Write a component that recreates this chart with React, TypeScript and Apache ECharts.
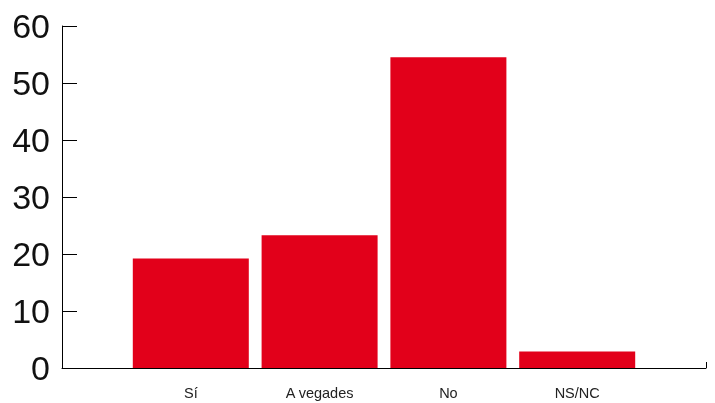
import React, { useEffect, useRef } from "react";
import * as echarts from "echarts";

const categories = ["", "Sí", "A vegades", "No", "NS/NC", ""];
const values: (number | null)[] = [null, 19.2, 23.3, 54.5, 2.9, null];
const yTicks = [0, 10, 20, 30, 40, 50, 60];

export default function App() {
  const ref = useRef<HTMLDivElement>(null);
  useEffect(() => {
    if (!ref.current) return;
    const chart = echarts.init(ref.current, null, { renderer: "svg" });
    chart.setOption({
      animation: false,
      grid: { left: 62, right: 9, top: 26, bottom: 35, containLabel: false },
      xAxis: {
        type: "category",
        data: categories,
        boundaryGap: false,
        axisLine: { show: true, lineStyle: { color: "#000", width: 1 } },
        axisTick: {
          show: true,
          inside: true,
          length: 6,
          interval: (i: number) => i === categories.length - 1,
          lineStyle: { color: "#000" },
        },
        axisLabel: {
          interval: 0,
          margin: 17,
          fontSize: 14.5,
          color: "#222",
          fontFamily: "'Liberation Sans Narrow', 'Liberation Sans', Arial, sans-serif",
        },
        splitLine: { show: false },
      },
      yAxis: {
        type: "value",
        min: yTicks[0],
        max: yTicks[yTicks.length - 1],
        interval: 10,
        axisLine: { show: true, lineStyle: { color: "#000", width: 1 } },
        axisTick: { show: true, inside: true, length: 15, lineStyle: { color: "#000" } },
        axisLabel: {
          margin: 12,
          fontSize: 34,
          color: "#111",
          fontFamily: "'Liberation Sans', Arial, sans-serif",
        },
        splitLine: { show: false },
      },
      series: [
        {
          type: "bar",
          data: values,
          barWidth: 116,
          itemStyle: { color: "#E2001A" },
        },
      ],
    });
    return () => chart.dispose();
  }, []);
  return <div ref={ref} style={{ width: 715, height: 403, position: "fixed", left: 0, top: 0 }} />;
}
